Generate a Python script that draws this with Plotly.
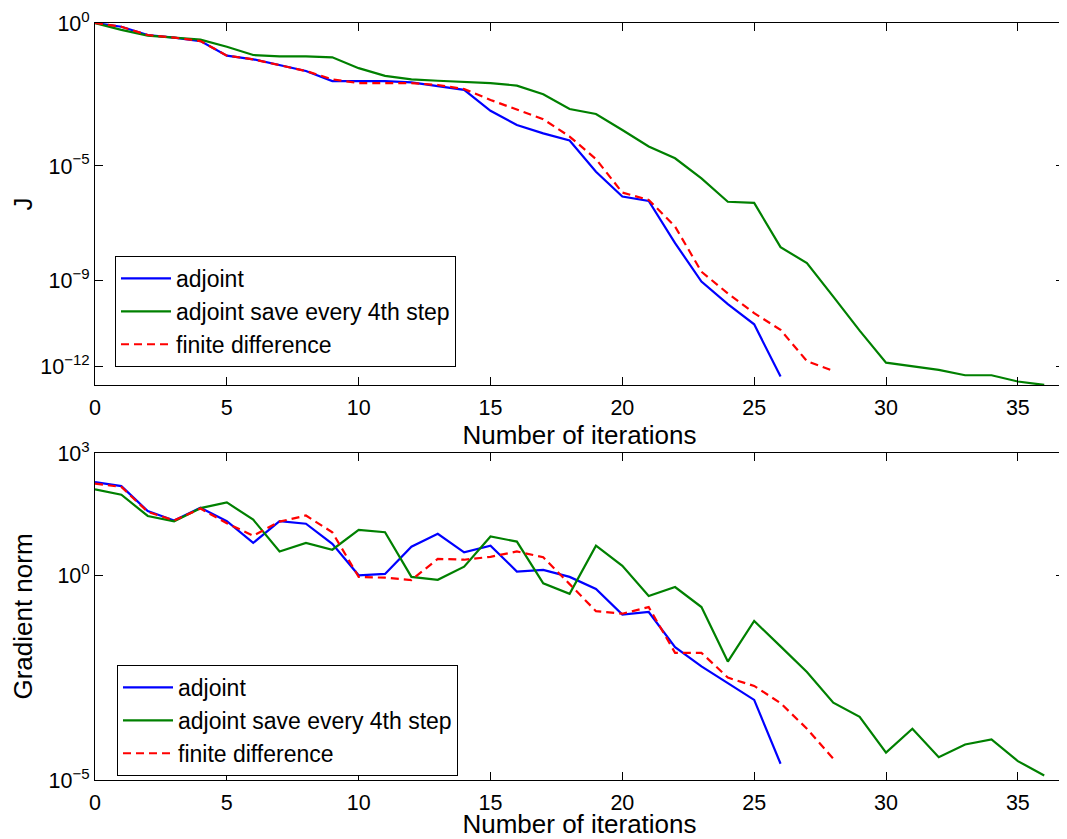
import plotly.graph_objects as go

# ---- data ----
iters_adjoint = list(range(0, 27))
iters_fd = list(range(0, 29))
iters_save4 = list(range(0, 37))

J_adjoint = [1.0, 0.741, 0.380, 0.309, 0.234, 0.0724, 0.0537, 0.0339, 0.0209, 0.00933,
             0.00933, 0.00933, 0.00832, 0.00631, 0.00457, 8.5e-4, 2.7e-4, 1.38e-4, 7.8e-5,
             6.3e-6, 8.5e-7, 6.0e-7, 2.0e-8, 9.1e-10, 1.48e-10, 2.9e-11, 4.3e-13]
J_save4 = [1.0, 0.575, 0.363, 0.309, 0.263, 0.148, 0.0759, 0.0676, 0.0676, 0.0631,
           0.0263, 0.0141, 0.0107, 0.00955, 0.00891, 0.00794, 0.00646, 0.00324, 9.8e-4,
           6.6e-4, 1.82e-4, 4.8e-5, 1.86e-5, 3.7e-6, 5.6e-7, 5.1e-7, 1.45e-8, 4.0e-9,
           2.7e-10, 1.74e-11, 1.32e-12, 9.8e-13, 7.4e-13, 4.8e-13, 4.8e-13, 2.9e-13, 2.2e-13]
J_fd = [1.0, 0.741, 0.380, 0.309, 0.234, 0.0724, 0.0537, 0.0339, 0.0209, 0.0107,
        0.0079, 0.0079, 0.0079, 0.0068, 0.0049, 0.00204, 9.1e-4, 4.3e-4, 1.07e-4,
        1.74e-5, 1.17e-6, 6.5e-7, 7.6e-8, 2.0e-9, 3.5e-10, 7.1e-11, 1.86e-11, 1.5e-12, 6.8e-13]

G_adjoint = [195, 155, 38, 22.4, 45.7, 21.4, 6.3, 21.4, 18.6, 6.0, 1.02, 1.10, 5.1, 10.5,
             3.7, 5.4, 1.26, 1.38, 0.93, 0.47, 0.112, 0.129, 0.0178, 6.0e-3, 2.34e-3,
             9.1e-4, 2.5e-5]
G_save4 = [129, 95.5, 28.8, 21.4, 44.7, 61.7, 23.4, 3.9, 6.3, 4.3, 13.2, 11.5, 0.93, 0.79,
           1.66, 9.1, 6.8, 0.65, 0.36, 5.4, 1.74, 0.316, 0.525, 0.170, 7.9e-3, 0.0776,
           0.0186, 4.4e-3, 7.8e-4, 3.5e-4, 4.7e-5, 1.8e-4, 3.6e-5, 7.4e-5, 9.8e-5, 2.9e-5, 1.29e-5]
G_fd = [178, 148, 36.3, 22.4, 43.7, 19.1, 9.5, 20.9, 29.5, 11.5, 0.93, 0.89, 0.78, 2.57,
        2.45, 2.88, 3.9, 2.82, 0.62, 0.135, 0.117, 0.170, 0.0129, 0.0129, 3.2e-3, 2.0e-3,
        7.6e-4, 1.8e-4, 3.3e-5]

series_names = ["adjoint", "adjoint save every 4th step", "finite difference"]
x_ticks = [0, 5, 10, 15, 20, 25, 30, 35]
J_tickvals = [1, 1e-5, 1e-9, 1e-12]
J_ticktext = ["10<sup>0</sup>", "10<sup>\u22125</sup>", "10<sup>\u22129</sup>", "10<sup>\u221212</sup>"]
G_tickvals = [1e3, 1, 1e-5]
G_ticktext = ["10<sup>3</sup>", "10<sup>0</sup>", "10<sup>\u22125</sup>"]

FONT = "Liberation Sans, Arial, Helvetica, sans-serif"
BLUE, GREEN, RED = "rgb(0,0,255)", "rgb(0,128,0)", "rgb(255,0,0)"

fig = go.Figure()

def add(x, y, name, color, dash, xa, ya, legend):
    fig.add_trace(go.Scatter(
        x=x, y=y, name=name, mode="lines",
        line=dict(color=color, width=2.2, dash=dash),
        xaxis=xa, yaxis=ya, legend=legend,
        legendgroup=legend + name,
    ))

add(iters_adjoint, J_adjoint, series_names[0], BLUE, "solid", "x", "y", "legend")
add(iters_save4, J_save4, series_names[1], GREEN, "solid", "x", "y", "legend")
add(iters_fd, J_fd, series_names[2], RED, "8px,5px", "x", "y", "legend")
add(iters_adjoint, G_adjoint, series_names[0], BLUE, "solid", "x2", "y2", "legend2")
add(iters_save4, G_save4, series_names[1], GREEN, "solid", "x2", "y2", "legend2")
add(iters_fd, G_fd, series_names[2], RED, "8px,5px", "x2", "y2", "legend2")

TITLE_FONT = dict(family=FONT, size=26, color="black")
axis_common = dict(
    showline=True, linecolor="black", linewidth=1, mirror="ticks",
    ticks="inside", ticklen=8, tickcolor="black", tickwidth=1,
    showgrid=False, zeroline=False, automargin=False, ticklabeloverflow="allow",
    tickfont=dict(family=FONT, size=21.5, color="black"),
)
xa = dict(axis_common, range=[0, 36.75], tickvals=x_ticks, ticklabelstandoff=3,
          title=dict(text="Number of iterations", font=TITLE_FONT, standoff=1))

# page places the figure 8px in from the top-left (default body margin),
# so the figure itself is 8px smaller and its margins 8px tighter.
W, H = 1059, 831
L, T, R = 87, 15, 3
B = 59
plot_h = H - T - B  # 757
top_lo = (plot_h - (385 - 23)) / plot_h
bot_hi = (plot_h - (453 - 23)) / plot_h

legend_style = dict(xanchor="left", yanchor="top", bgcolor="white", bordercolor="black",
                    borderwidth=1, font=dict(family=FONT, size=23, color="black"),
                    itemwidth=50, tracegroupgap=0)

fig.update_layout(
    width=W, height=H,
    margin=dict(l=L, r=R, t=T, b=B, autoexpand=False),
    paper_bgcolor="white", plot_bgcolor="white",
    font=dict(family=FONT, color="black"),
    xaxis=dict(xa, domain=[0, 1], anchor="y"),
    yaxis=dict(axis_common, type="log", range=[-12.66, 0], domain=[top_lo, 1], anchor="x",
               tickvals=J_tickvals, ticktext=J_ticktext,
               title=dict(text="J", font=TITLE_FONT, standoff=6)),
    xaxis2=dict(xa, domain=[0, 1], anchor="y2"),
    yaxis2=dict(axis_common, type="log", range=[-5, 3], domain=[0, bot_hi], anchor="x2",
                tickvals=G_tickvals, ticktext=G_ticktext,
                title=dict(text="Gradient norm", font=TITLE_FONT, standoff=8)),
    legend=dict(legend_style, x=(115 - 95) / 969, y=(plot_h - (256 - 23)) / plot_h),
    legend2=dict(legend_style, x=(117 - 95) / 969, y=(plot_h - (665 - 23)) / plot_h),
)

fig.write_html("out.html")
